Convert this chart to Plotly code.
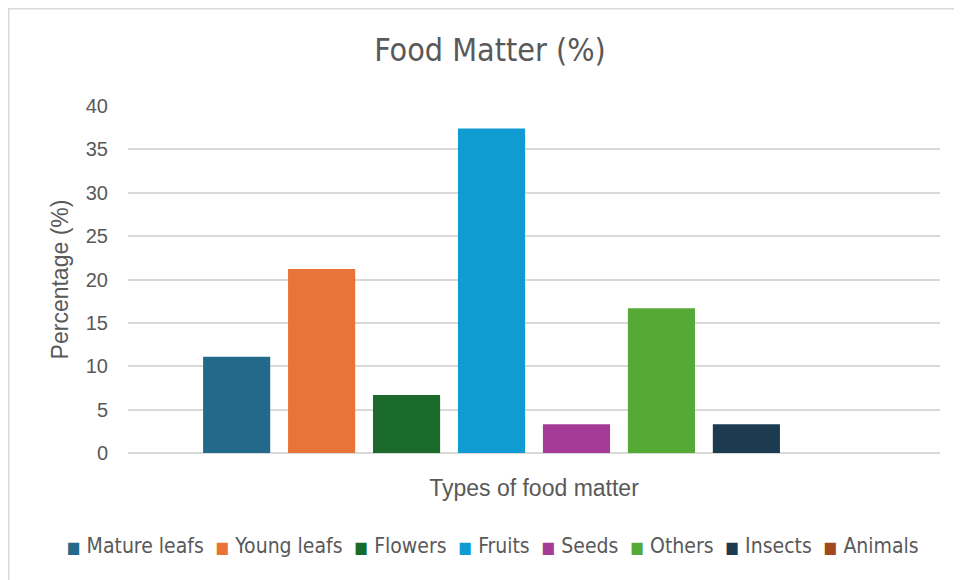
import plotly.graph_objects as go

series_names = ["Mature leafs", "Young leafs", "Flowers", "Fruits", "Seeds", "Others", "Insects", "Animals"]
series_values = [11.1, 21.2, 6.7, 37.4, 3.3, 16.7, 3.3, 0.0]
series_colors = ["#236a8a", "#e8743a", "#1a6b2b", "#119bd3", "#a53a97", "#55a935", "#1d3b50", "#a0481e"]
category = ["Food matter"]
y_ticks = [0, 5, 10, 15, 20, 25, 30, 35, 40]

narrow = "DejaVu Sans Condensed, Roboto Condensed, sans-serif"
regular = "Liberation Sans, Arial, sans-serif"
grey = "#595959"

fig = go.Figure()
for name, val, col in zip(series_names, series_values, series_colors):
    fig.add_trace(go.Bar(
        x=category, y=[val], name=name,
        marker=dict(color=col, line=dict(width=0)),
        hoverinfo="name+y", showlegend=False,
    ))

# figure is drawn 8px in from the page corner (body margin)
W, H = 954, 572
L, T = 120, 98
PW, PH = 812, 347
R, B = W - L - PW, H - T - PH

def fx(px):  # figure-pixel x -> paper
    return (px - L) / PW

def fy(py):  # figure-pixel y -> paper
    return (T + PH - py) / PH

# chart-area border
fig.add_shape(type="rect", xref="paper", yref="paper",
              x0=fx(0.75), x1=fx(W + 20), y0=fy(H + 20), y1=fy(0.75),
              line=dict(color="#d9d9d9", width=1.5), fillcolor="rgba(0,0,0,0)", layer="below")

# legend (one row, Excel style)
items = []
for name, col in zip(series_names, series_colors):
    items.append(f'<span style="color:{col};font-size:16px">■</span>\u00a0{name}')
legend_text = "\u00a0\u00a0".join(items)
fig.add_annotation(xref="paper", yref="paper", x=fx(485), y=fy(538),
                   xanchor="center", yanchor="middle", showarrow=False,
                   text=legend_text, font=dict(family=narrow, size=21, color=grey))

fig.update_layout(
    width=W, height=H,
    margin=dict(l=L, r=R, t=T, b=B),
    paper_bgcolor="white", plot_bgcolor="white",
    barmode="group", bargap=0.163, bargroupgap=0.21,
    title=dict(text="Food Matter (%)", x=482 / W, xanchor="center",
               y=1 - 42 / H, yanchor="middle",
               font=dict(family=narrow, size=32, color=grey)),
    xaxis=dict(showticklabels=False, showgrid=False, zeroline=False, showline=False, ticks="",
               title=dict(text="Types of food matter", standoff=26,
                          font=dict(family=regular, size=23, color=grey))),
    yaxis=dict(range=[0, 40], tickvals=y_ticks, showgrid=True, gridcolor="#d9d9d9", gridwidth=1.5,
               zeroline=True, zerolinecolor="#d9d9d9", zerolinewidth=1.5, showline=False, ticks="",
               ticklabelstandoff=19,
               tickfont=dict(family=regular, size=20, color=grey),
               title=dict(text="Percentage (%)", standoff=10,
                          font=dict(family=regular, size=23, color=grey))),
    showlegend=False,
)

fig.write_html("out.html")
